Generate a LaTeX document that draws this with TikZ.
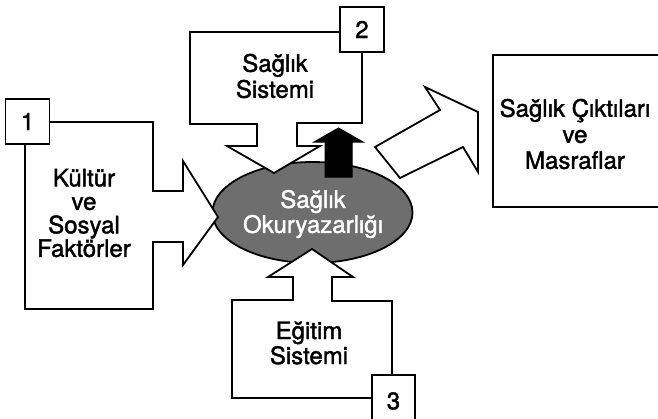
\documentclass[tikz,border=0pt]{standalone}
\usepackage{fontspec}
\setmainfont{TeX Gyre Heros}[FakeBold=1.6]
\usetikzlibrary{shapes.geometric}
\definecolor{ellgray}{RGB}{110,110,110}
\begin{document}
\begin{tikzpicture}[x=1pt,y=-1pt,line join=miter,
  outl/.style={draw=black,line width=1.8pt,fill=white},
  solidarrow/.style={draw=black,line width=1pt,fill=black},
  lbl/.style={align=center,font=\fontsize{24}{25}\selectfont,inner sep=0pt},
  numbox/.style={draw=black,line width=1.8pt,fill=white,minimum width=44pt,minimum height=45pt,inner sep=0pt,font=\fontsize{24}{25}\selectfont}]
\useasboundingbox (0,0) rectangle (658,418);
% central ellipse
\node[ellipse,draw=black,line width=1.8pt,fill=ellgray,minimum width=200pt,minimum height=101pt,inner sep=0pt] (hl) at (312.5,212.5) {};
% shape 1 (left)
\draw[outl] (50,122) -- (153,122) -- (153,191) -- (183,191) -- (183,161) -- (218,217) -- (183,265) -- (183,242) -- (153,242) -- (153,309) -- (25,309) -- (25,144) -- (25,122) -- cycle;
% shape 2 (top)
\draw[outl] (340,32) -- (190,32) -- (190,124) -- (257,124) -- (257,146) -- (227,146) -- (274,173) -- (320,146) -- (297,146) -- (297,123) -- (362,123) -- (362,32) -- cycle;
% shape 3 (bottom)
\draw[outl] (312,249) -- (353,277) -- (332,277) -- (332,301) -- (392,301) -- (392,398) -- (232,398) -- (232,300) -- (293,300) -- (293,277) -- (268,277) -- cycle;
% right white arrow
\draw[outl] (375,147) -- (440,110) -- (425,87) -- (478,112) -- (478,172) -- (463,147) -- (400,178) -- cycle;
% black arrow
\draw[solidarrow] (325,177) -- (325,142) -- (314,142) -- (338.5,128) -- (363,142) -- (352,142) -- (352,177) -- cycle;
% right box
\draw[line width=1.8pt] (670,55) -- (493,55) -- (493,207) -- (670,207);
% texts
\node[lbl,text=white] (hltext) at (313,214) {Sağlık\\Okuryazarlığı};
\node[lbl,font=\fontsize{24}{23.5}\selectfont] (kult) at (84,213) {Kültür\\ve\\Sosyal\\Faktörler};
\node[lbl,font=\fontsize{24}{26}\selectfont] (saglik) at (275,76) {Sağlık\\Sistemi};
\node[lbl] (egitim) at (309,343) {Eğitim\\Sistemi};
\node[lbl,font=\fontsize{24}{26}\selectfont] (cikti) at (575,134) {Sağlık Çıktıları\\ve\\Masraflar};
% number boxes
\node[numbox] (n1) at (27.5,121.5) {1};
\node[numbox] (n2) at (362,29.5) {2};
\node[numbox,minimum width=43pt,minimum height=52pt] (n3) at (393.5,401) {3};
\end{tikzpicture}
\end{document}
